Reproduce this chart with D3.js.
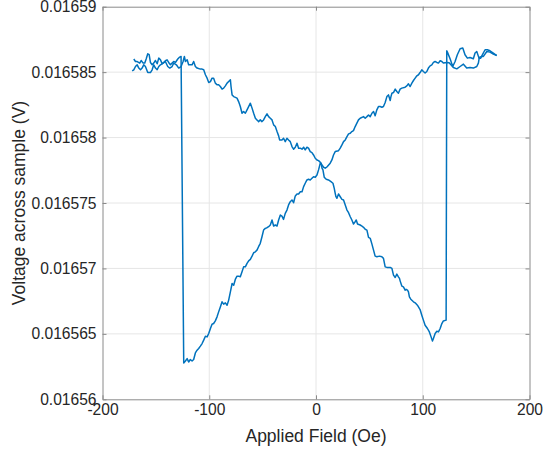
<!DOCTYPE html>
<html>
<head>
<meta charset="utf-8">
<script src="https://cdn.jsdelivr.net/npm/d3@7"></script>
<style>
  html, body { margin: 0; padding: 0; background: #ffffff; }
  svg { display: block; font-family: "Liberation Sans", Arial, Helvetica, sans-serif; }
</style>
</head>
<body>
<svg id="chart" width="543" height="451"></svg>
<script>
// Field sweep from +170 Oe down to -172 Oe
const downField = [169.3,166.1,163.0,160.5,158.4,156.2,154.3,152.7,150.6,149.0,147.4,144.3,141.8,139.6,137.5,135.0,132.4,130.3,128.1,125.6,123.1,122.5,
  121.9,119.3,117.9,116.3,114.7,113.2,111.6,110.0,109.1,107.8,106.2,104.4,102.2,100.6,99.1,97.5,95.0,92.9,91.3,88.8,87.5,86.6,85.7,84.4,83.5,81.9,80.4,78.8,78.2,77.2,75.7,74.2,72.6,71.1,69.5,66.4,64.8,63.2,61.7,59.5,57.0,55.4,53.9,52.4,50.8,49.2,47.7,46.1,44.5,43.0,41.4,38.9,37.7,36.7,35.1,33.6,32.1,30.5,29.0,27.4,25.8,24.3,22.7,21.1,19.6,18.7,18.0,17.1,15.9,14.0,11.7,9.6,7.7,6.5,5.6,4.9,
  2.4,0.9,-0.7,-2.3,-3.8,-5.4,-7.0,-8.5,-10.1,-11.6,-13.1,-14.7,-16.3,-17.8,-19.4,-21.0,-22.5,-24.1,-25.7,-27.2,-28.8,-30.4,-31.9,-34.1,-35.0,-36.5,-38.1,-39.7,-41.2,-42.8,-44.4,-45.9,-47.5,-49.1,-50.6,-52.2,-53.8,-55.3,-56.8,-58.4,-59.9,-61.5,-63.1,-64.6,-66.2,-67.8,-69.3,-70.9,-72.5,-74.0,-77.1,-78.6,-79.6,-80.2,-81.8,-83.3,-84.9,-86.5,-88.0,-89.6,-91.2,-92.7,-94.3,-95.9,-97.4,-98.9,-100.5,-102.0,-103.6,-105.2,-106.7,-108.3,
  -111.4,-113.0,-114.6,-116.1,-119.3,-120.7,-122.3,-123.3,-124.5,-126.4,-128.6,-130.8,-133.3,-134.8,-137.0,-138.9,-141.1,-143.2,-145.7,-147.3,-148.8,-150.4,-152.0,-153.5,-155.1,-157.6,-159.8,-161.4,-162.9,-164.4,-166.0,-167.5,-169.1,-170.7,-172.2];
const downVoltage = [0.01658627,0.01658646,0.01658663,0.01658671,0.01658671,0.01658638,0.01658607,0.01658607,0.01658658,0.01658646,0.01658602,0.01658612,0.01658607,0.01658633,0.01658684,0.01658679,0.01658633,0.01658581,0.01658543,0.01658602,0.01658653,0.01658663,
  0.01656605,0.01656599,0.01656579,0.01656541,0.01656515,0.01656520,0.01656503,0.01656465,0.01656446,0.01656477,0.01656515,0.01656541,0.01656566,0.01656605,0.01656643,0.01656686,0.01656719,0.01656737,0.01656745,0.01656765,0.01656783,0.01656821,0.01656834,0.01656840,0.01656834,0.01656859,0.01656865,0.01656905,0.01656924,0.01656936,0.01656957,0.01656931,0.01656949,0.01657000,0.01657008,0.01657008,0.01657012,0.01657077,0.01657089,0.01657094,0.01657089,0.01657094,0.01657140,0.01657186,0.01657230,0.01657237,0.01657293,0.01657299,0.01657314,0.01657324,0.01657332,0.01657339,0.01657370,0.01657357,0.01657339,0.01657370,0.01657395,0.01657426,0.01657446,0.01657485,0.01657523,0.01657528,0.01657548,0.01657569,0.01657536,0.01657548,0.01657574,0.01657612,0.01657651,0.01657663,0.01657676,0.01657681,0.01657697,0.01657753,0.01657766,0.01657804,
  0.01657824,0.01657829,0.01657842,0.01657867,0.01657885,0.01657893,0.01657919,0.01657926,0.01657906,0.01657926,0.01657911,0.01657919,0.01657919,0.01657957,0.01657926,0.01657911,0.01657931,0.01657969,0.01657982,0.01657995,0.01657969,0.01657995,0.01657982,0.01657982,0.01658013,0.01658046,0.01658084,0.01658097,0.01658135,0.01658148,0.01658160,0.01658181,0.01658160,0.01658135,0.01658122,0.01658135,0.01658122,0.01658135,0.01658148,0.01658186,0.01658225,0.01658263,0.01658237,0.01658212,0.01658186,0.01658199,0.01658186,0.01658237,0.01658275,0.01658301,0.01658313,0.01658326,0.01658390,0.01658441,0.01658428,0.01658416,0.01658395,0.01658378,0.01658370,0.01658390,0.01658403,0.01658403,0.01658416,0.01658454,0.01658454,0.01658428,0.01658421,0.01658454,0.01658480,0.01658518,0.01658523,0.01658523,
  0.01658531,0.01658543,0.01658581,0.01658556,0.01658556,0.01658594,0.01658581,0.01658620,0.01658581,0.01658543,0.01658531,0.01658556,0.01658569,0.01658543,0.01658531,0.01658543,0.01658581,0.01658569,0.01658556,0.01658543,0.01658518,0.01658531,0.01658556,0.01658518,0.01658497,0.01658497,0.01658543,0.01658556,0.01658531,0.01658518,0.01658531,0.01658556,0.01658543,0.01658518,0.01658510];

// Field sweep from -171 Oe back up to +170 Oe
const upField = [-170.7,-169.1,-167.5,-165.1,-163.8,-161.9,-160.4,-159.1,-157.6,-156.3,-155.1,-153.5,-152.0,-150.4,-148.8,-147.3,-145.7,-144.1,-142.6,-141.1,-139.5,-138.0,-136.4,-134.8,-133.3,-131.7,-129.5,-127.7,-126.4,
  -123.9,-122.3,-120.7,-119.3,-117.7,-116.1,-114.6,-113.0,-111.4,-109.9,-108.3,-106.7,-105.2,-103.6,-102.0,-100.5,-98.9,-97.4,-95.9,-94.3,-92.7,-91.2,-89.6,-88.0,-86.5,-84.9,-83.3,-81.8,-80.2,-78.6,-77.1,-75.6,-74.0,-72.5,-70.9,-69.3,-67.8,-66.2,-64.6,-63.1,-61.5,-59.9,-58.4,-56.8,-55.3,-53.8,-52.2,-50.6,-49.1,-47.5,-45.9,-44.4,-42.8,-41.2,-39.7,-38.1,-36.5,-35.0,-33.4,-31.9,-30.4,-28.8,-27.2,-25.7,-24.1,-22.5,-21.0,-19.4,-17.8,-16.3,-14.7,-13.1,-11.6,-10.1,-8.5,-7.0,-5.4,-3.8,-2.3,-0.7,0.9,2.4,
  4.0,5.6,7.1,8.7,10.2,13.3,14.9,16.4,18.0,21.1,22.7,24.3,25.8,27.4,29.0,30.5,32.1,33.6,35.1,36.7,38.3,39.8,41.4,44.5,46.1,47.7,49.2,50.8,52.4,53.9,55.4,57.0,58.5,60.1,61.7,63.2,64.8,66.4,67.9,69.5,70.1,71.1,72.6,74.2,75.7,77.2,78.8,80.4,83.5,85.1,86.6,88.2,89.8,91.3,92.9,94.5,96.0,97.5,99.1,100.6,102.2,103.8,105.3,106.9,108.5,110.0,111.6,113.2,114.7,116.3,117.9,119.3,122.5,
  124.7,128.7,131.9,135.0,138.1,141.2,144.3,147.4,150.6,152.1,153.0,155.3,156.8,160.0,163.0,166.1,169.3];
const upVoltage = [0.01658600,0.01658581,0.01658581,0.01658569,0.01658589,0.01658569,0.01658569,0.01658600,0.01658640,0.01658633,0.01658574,0.01658556,0.01658569,0.01658589,0.01658564,0.01658607,0.01658594,0.01658564,0.01658574,0.01658587,0.01658594,0.01658574,0.01658556,0.01658569,0.01658581,0.01658574,0.01658600,0.01658615,0.01658620,
  0.01656278,0.01656293,0.01656311,0.01656285,0.01656304,0.01656293,0.01656304,0.01656354,0.01656375,0.01656388,0.01656406,0.01656426,0.01656452,0.01656482,0.01656477,0.01656503,0.01656541,0.01656574,0.01656579,0.01656599,0.01656630,0.01656668,0.01656706,0.01656745,0.01656727,0.01656737,0.01656719,0.01656758,0.01656821,0.01656885,0.01656872,0.01656916,0.01656941,0.01656941,0.01656936,0.01656974,0.01657012,0.01657012,0.01657039,0.01657058,0.01657069,0.01657094,0.01657120,0.01657127,0.01657140,0.01657166,0.01657192,0.01657242,0.01657293,0.01657306,0.01657311,0.01657319,0.01657332,0.01657370,0.01657324,0.01657332,0.01657324,0.01657370,0.01657408,0.01657400,0.01657375,0.01657421,0.01657446,0.01657485,0.01657510,0.01657523,0.01657502,0.01657554,0.01657569,0.01657569,0.01657586,0.01657586,0.01657625,0.01657651,0.01657676,0.01657681,0.01657676,0.01657689,0.01657701,0.01657697,0.01657714,0.01657753,
  0.01657804,0.01657791,0.01657773,0.01657766,0.01657775,0.01657804,0.01657829,0.01657867,0.01657893,0.01657900,0.01657919,0.01657944,0.01657969,0.01657982,0.01658007,0.01658028,0.01658033,0.01658046,0.01658053,0.01658084,0.01658110,0.01658135,0.01658148,0.01658160,0.01658148,0.01658160,0.01658173,0.01658160,0.01658186,0.01658199,0.01658166,0.01658212,0.01658237,0.01658237,0.01658232,0.01658237,0.01658268,0.01658313,0.01658326,0.01658283,0.01658309,0.01658339,0.01658344,0.01658370,0.01658352,0.01658339,0.01658370,0.01658378,0.01658385,0.01658395,0.01658411,0.01658390,0.01658416,0.01658436,0.01658454,0.01658472,0.01658480,0.01658497,0.01658518,0.01658505,0.01658493,0.01658505,0.01658531,0.01658548,0.01658556,0.01658574,0.01658581,0.01658574,0.01658569,0.01658587,0.01658581,0.01658569,0.01658574,
  0.01658571,0.01658535,0.01658525,0.01658543,0.01658561,0.01658531,0.01658535,0.01658531,0.01658543,0.01658569,0.01658612,0.01658620,0.01658620,0.01658658,0.01658653,0.01658638,0.01658627];

const xTicks = [-200, -100, 0, 100, 200];
const yTicks = [0.01656, 0.016565, 0.01657, 0.016575, 0.01658, 0.016585, 0.01659];
const yTickLabels = ["0.01656", "0.016565", "0.01657", "0.016575", "0.01658", "0.016585", "0.01659"];
const xLabel = "Applied Field (Oe)";
const yLabel = "Voltage across sample (V)";

const svg = d3.select("#chart");
const plotLeft = 102.5, plotRight = 529.5, plotTop = 6.7, plotBottom = 399.3;
const axisColor = "#8a8a8a", textColor = "#262626", gridColor = "#e6e6e6", lineColor = "#0072bd";

const x = d3.scaleLinear().domain([-200, 200]).range([plotLeft, plotRight]);
const y = d3.scaleLinear().domain([0.01656, 0.01659]).range([plotBottom, plotTop]);

// grid lines
const grid = svg.append("g");
grid.selectAll(".gx").data(xTicks.slice(1, -1)).join("line")
  .attr("x1", d => x(d)).attr("x2", d => x(d)).attr("y1", plotTop).attr("y2", plotBottom)
  .attr("stroke", gridColor).attr("stroke-width", 1);
grid.selectAll(".gy").data(yTicks.slice(1, -1)).join("line")
  .attr("y1", d => y(d)).attr("y2", d => y(d)).attr("x1", plotLeft).attr("x2", plotRight)
  .attr("stroke", gridColor).attr("stroke-width", 1);

// data
const line = d3.line().x(d => x(d[0])).y(d => y(d[1]));
const plot = svg.append("g");
[[downField, downVoltage], [upField, upVoltage]].forEach(([f, v]) => {
  plot.append("path")
    .datum(d3.zip(f, v))
    .attr("d", line)
    .attr("fill", "none")
    .attr("stroke", lineColor)
    .attr("stroke-width", 1.5)
    .attr("stroke-linejoin", "round");
});

// axes with inward ticks
function styleAxis(g) {
  g.select(".domain").attr("stroke", axisColor);
  g.selectAll(".tick line").attr("stroke", axisColor);
  g.selectAll(".tick text").attr("fill", textColor).style("font-size", "15.6px")
    .style("font-family", '"Liberation Sans", Arial, Helvetica, sans-serif');
}
const xAxis = svg.append("g").attr("transform", `translate(0,${plotBottom})`)
  .call(d3.axisBottom(x).tickValues(xTicks).tickSize(-4).tickSizeOuter(0).tickPadding(5))
  .call(styleAxis);
xAxis.selectAll(".tick text").text(d => d < 0 ? "-" + Math.abs(d) : String(d));
svg.append("g").attr("transform", `translate(0,${plotTop})`)
  .call(d3.axisTop(x).tickValues(xTicks).tickSize(-4).tickSizeOuter(0).tickFormat(() => ""))
  .call(styleAxis);
svg.append("g").attr("transform", `translate(${plotLeft},0)`)
  .call(d3.axisLeft(y).tickValues(yTicks).tickSize(-4).tickSizeOuter(0).tickPadding(6).tickFormat((d, i) => yTickLabels[i]))
  .call(styleAxis);
svg.append("g").attr("transform", `translate(${plotRight},0)`)
  .call(d3.axisRight(y).tickValues(yTicks).tickSize(-4).tickSizeOuter(0).tickFormat(() => ""))
  .call(styleAxis);

// axis titles
svg.append("text")
  .attr("x", (plotLeft + plotRight) / 2).attr("y", 442)
  .attr("text-anchor", "middle").attr("fill", textColor)
  .style("font-size", "17.5px").text(xLabel);
svg.append("text")
  .attr("transform", `translate(25,${(plotTop + plotBottom) / 2}) rotate(-90)`)
  .attr("text-anchor", "middle").attr("fill", textColor)
  .style("font-size", "17.5px").text(yLabel);
</script>
</body>
</html>
